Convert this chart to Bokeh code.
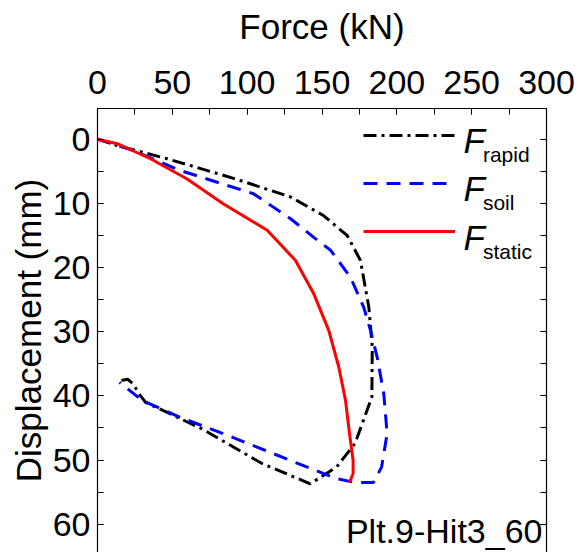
from bokeh.plotting import figure
from bokeh.models import (Range1d, LinearAxis, Legend, LegendItem, Label,
                          SingleIntervalTicker, CustomJSTickFormatter)
from bokeh.embed import file_html
from bokeh.resources import INLINE

# ---- data ----
rapid_force = [0, 13.2, 46.6, 90.9, 129, 151, 166.8, 175.7, 181.3, 183.6, 183.3,
               172.1, 159.7, 142.1, 109.6, 69.5, 32.1, 27.4, 24.1, 20.0, 16.0]
rapid_disp = [0, 1.0, 3.05, 6.1, 9.0, 11.9, 15.0, 18.9, 26.2, 32.4, 40.2,
              47.4, 51.1, 53.7, 50.5, 45.1, 41.0, 39.6, 38.2, 37.4, 37.6]

soil_force = [0, 24.3, 55.5, 104.2, 129, 144.5, 155.7, 169, 177.9, 182.4, 186.9,
              191.3, 193.5, 189.8, 184.4, 172.1, 159.7, 134.6, 89.5, 54.8, 29.7, 14.7]
soil_disp = [0, 1.8, 4.9, 8.5, 12.4, 15.3, 17.3, 21.5, 26.2, 29.8, 34.0,
             39.7, 45.9, 51.1, 53.5, 53.5, 52.9, 50.6, 46.4, 43.3, 40.7, 37.9]

static_force = [0, 13.2, 35.4, 59.9, 84.2, 113.4, 132.3, 144.5, 154.5, 161.2,
                165.7, 168.4, 170.8, 170.8, 168.4]
static_disp = [0, 0.7, 3.05, 6.2, 10.1, 14.2, 18.9, 24.1, 29.8, 35.5,
               40.7, 45.9, 50.1, 52.1, 53.5]

x_label = "Force (kN)"
y_label = "Displacement (mm)"
series_sub = ["rapid", "soil", "static"]
annotation = "Plt.9-Hit3_60"

FONT = "Liberation Sans"

p = figure(width=585, height=552, output_backend="svg", toolbar_location=None,
           x_range=Range1d(0, 300), y_range=Range1d(64.41, -4.78),
           x_axis_location="above", min_border_left=97, min_border_right=39,
           min_border_top=108, min_border_bottom=0)
p.grid.visible = False
p.outline_line_color = None
p.background_fill_color = "white"
p.border_fill_color = "white"

# top x axis
xa = p.xaxis[0]
xa.ticker = SingleIntervalTicker(interval=50, num_minor_ticks=2)
xa.axis_label = x_label
xa.axis_label_text_font = FONT
xa.axis_label_text_font_size = "35px"
xa.axis_label_text_font_style = "normal"
xa.axis_label_text_color = "black"
xa.axis_label_standoff = 22
xa.major_label_text_font = FONT
xa.major_label_text_font_size = "34px"
xa.major_label_text_color = "black"
xa.major_label_standoff = 15

# left y axis
ya = p.yaxis[0]
ya.ticker = SingleIntervalTicker(interval=10, num_minor_ticks=2)
ya.axis_label = y_label
ya.axis_label_text_font = FONT
ya.axis_label_text_font_size = "35px"
ya.axis_label_text_font_style = "normal"
ya.axis_label_text_color = "black"
ya.axis_label_standoff = 2
ya.major_label_text_font = FONT
ya.major_label_text_font_size = "34px"
ya.major_label_text_color = "black"
ya.major_label_standoff = 7

for ax in (xa, ya):
    ax.major_tick_in = 6
    ax.major_tick_out = 0
    ax.minor_tick_in = 6
    ax.minor_tick_out = 0
    ax.axis_line_color = "black"
    ax.major_tick_line_color = "black"
    ax.minor_tick_line_color = "black"
    ax.axis_line_width = 1.2

# right axis: ticks only
ra = LinearAxis(ticker=SingleIntervalTicker(interval=10, num_minor_ticks=2),
                formatter=CustomJSTickFormatter(code="return ''"),
                major_label_text_font_size="0px",
                major_tick_in=6, major_tick_out=0, minor_tick_in=6, minor_tick_out=0,
                axis_line_color="black", axis_line_width=1.2,
                major_tick_line_color="black",
                minor_tick_line_color="black", major_label_standoff=0)
p.add_layout(ra, "right")

# series
r_rapid = p.line(rapid_force, rapid_disp, line_color="black", line_width=3,
                 line_dash="13 5 3 5")
r_soil = p.line(soil_force, soil_disp, line_color="#0000ff", line_width=3,
                line_dash="14 9")
r_static = p.line(static_force, static_disp, line_color="#ff0000", line_width=3)

legend = Legend(items=[LegendItem(label=" ", renderers=[r_rapid]),
                       LegendItem(label=" ", renderers=[r_soil]),
                       LegendItem(label=" ", renderers=[r_static])],
                location=(266, 311), glyph_width=92, glyph_height=20,
                label_height=20, label_width=0, label_standoff=0,
                label_text_font_size="1px", spacing=28, padding=0, margin=0,
                border_line_alpha=0, background_fill_alpha=0)
p.add_layout(legend)

# legend texts: italic F with subscripts (data-space positions of the legend text)
F_X = 244.5
SUB_X = 257.5
F_Y = [0.2, 7.76, 15.32]
SUB_Y = [2.38, 9.94, 17.5]
for fy, sy, sub in zip(F_Y, SUB_Y, series_sub):
    p.add_layout(Label(x=F_X, y=fy, text="F", text_font=FONT,
                       text_font_style="italic", text_font_size="35px",
                       text_color="black", text_baseline="alphabetic"))
    p.add_layout(Label(x=SUB_X, y=sy, text=sub, text_font=FONT,
                       text_font_size="21px", text_color="black",
                       text_baseline="alphabetic"))

p.add_layout(Label(x=297.3, y=61.0, text=annotation, text_font=FONT,
                   text_font_size="34px", text_color="black",
                   text_align="right", text_baseline="alphabetic"))

open("out.html", "w").write(file_html(p, INLINE))
